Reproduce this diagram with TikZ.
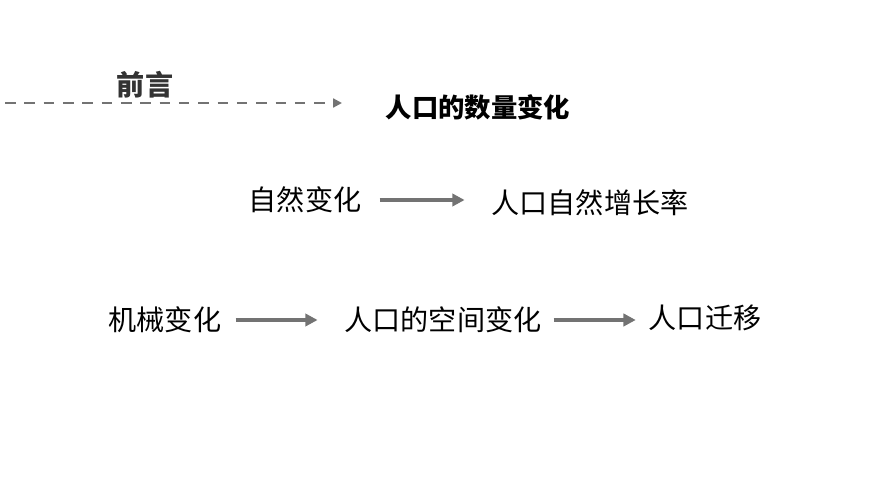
\documentclass[tikz,border=0pt]{standalone}
\usepackage{fontspec}
\newfontfamily\cjk{Noto Sans CJK SC}
\usetikzlibrary{arrows.meta,positioning}
\begin{document}
\begin{tikzpicture}[
    x=0.02cm, y=-0.02cm,
    label/.style={font=\cjk\fontsize{16pt}{18pt}\selectfont, inner sep=0pt},
    heading/.style={font=\cjk\bfseries\fontsize{15pt}{18pt}\selectfont, inner sep=0pt},
    flow/.style={-{Triangle[length=7pt,width=7pt]}, line width=2.5pt, draw=black!55},
    dashflow/.style={-{Triangle[length=5pt,width=5pt]}, dashed, dash pattern=on 6pt off 5pt, line width=1.2pt, draw=black!55}
  ]
  \useasboundingbox (0,0) rectangle (870,489);
  % title line
  \node (intro) [heading, text=black!80, font=\cjk\bfseries\fontsize{16pt}{18pt}\selectfont] at (145,85) {前言};
  \coordinate (start) at (5,103);
  \coordinate (stop) at (342,103);
  \draw [dashflow] (start) -- (stop);
  \node (amount) [heading] at (478,107) {人口的数量变化};
  % natural change
  \node (natural) [label] at (305,200) {自然变化};
  \node (rate) [label] at (590,203) {人口自然增长率};
  \draw [flow] (natural.east) ++(18,0) coordinate (n1) (n1) -- ++(85,0) coordinate (n2);
  % mechanical change
  \node (mech) [label] at (165,320) {机械变化};
  \node (space) [label] at (443,320) {人口的空间变化};
  \node (migr) [label] at (705,318) {人口迁移};
  \draw [flow] (mech.east) ++(14,0) coordinate (m1) (m1) -- ++(82,0) coordinate (m2);
  \draw [flow] (space.east) ++(12,0) coordinate (s1) (s1) -- ++(82,0) coordinate (s2);
\end{tikzpicture}
\end{document}
